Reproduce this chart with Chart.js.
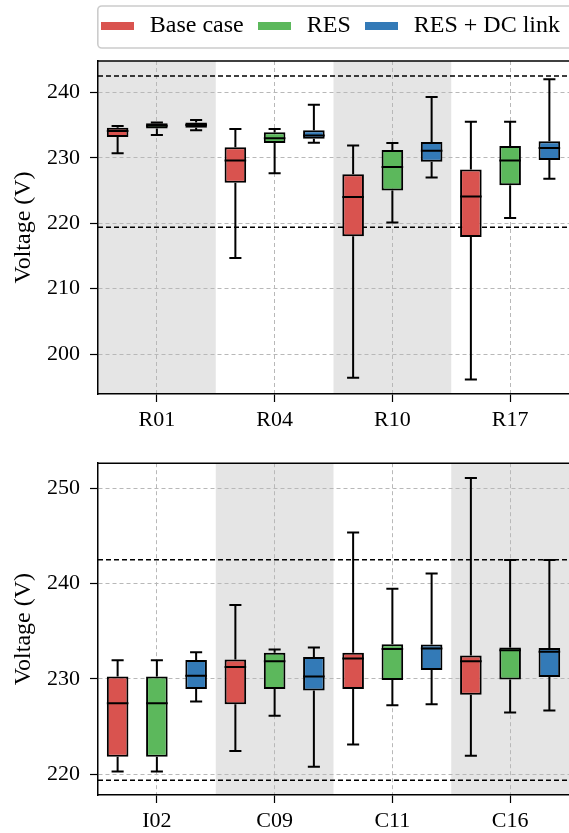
<!DOCTYPE html>
<html><head><meta charset="utf-8">
<script src="https://cdn.jsdelivr.net/npm/chart.js@4.4.0/dist/chart.umd.min.js"></script>
<style>
html,body{margin:0;padding:0;background:#fff;}
#wrapTop{position:absolute;left:0;top:0;width:569px;height:440px;}
#wrapBot{position:absolute;left:0;top:440px;width:569px;height:393px;}
</style></head><body>
<div id="wrapTop"><canvas id="topChart" width="569" height="440"></canvas></div>
<div id="wrapBot"><canvas id="botChart" width="569" height="393"></canvas></div>
<script>
const seriesNames = ['Base case', 'RES', 'RES + DC link'];
const seriesColors = ['#d9534f', '#5cb85c', '#337ab7'];
const topCategories = ['R01', 'R04', 'R10', 'R17'];
const bottomCategories = ['I02', 'C09', 'C11', 'C16'];

// each entry: [lower whisker, Q1, median, Q3, upper whisker]
const topBaseCase = [[230.7, 233.2, 234.1, 234.6, 234.85], [214.7, 226.2, 229.6, 231.6, 234.4], [196.4, 218.0, 224.0, 227.5, 231.9], [196.1, 217.9, 224.1, 228.2, 235.5]];
const topRES = [[233.5, 234.5, 234.9, 235.3, 235.4], [227.65, 232.25, 233.0, 233.9, 234.4], [220.1, 225.0, 228.6, 231.2, 232.25], [220.8, 225.8, 229.6, 231.8, 235.5]];
const topRESDC = [[234.2, 234.6, 235.0, 235.4, 235.8], [232.3, 232.9, 233.4, 234.2, 238.1], [227.0, 229.4, 231.1, 232.4, 239.3], [226.8, 229.65, 231.5, 232.55, 242.0]];

const bottomBaseCase = [[220.3, 221.85, 227.45, 230.25, 231.95], [222.45, 227.35, 231.25, 232.05, 237.75], [223.15, 228.95, 232.15, 232.75, 245.35], [221.95, 228.35, 231.85, 232.45, 251.05]];
const bottomRES = [[220.3, 221.85, 227.45, 230.25, 231.95], [226.15, 228.95, 231.85, 232.75, 233.1], [227.25, 229.9, 233.15, 233.65, 239.45], [226.5, 229.95, 233.0, 233.3, 242.45]];
const bottomRESDC = [[227.65, 228.95, 230.35, 232.0, 232.8], [220.8, 228.8, 230.25, 232.3, 233.3], [227.35, 230.95, 233.2, 233.6, 241.05], [226.7, 230.2, 232.85, 233.25, 242.45]];

const topTicks = [200, 210, 220, 230, 240];
const bottomTicks = [220, 230, 240, 250];
const topRange = [193.9, 244.8];
const bottomRange = [217.85, 252.6];
const voltageLimits = [219.4, 242.5];
const topShaded = [0, 2];
const bottomShaded = [1, 3];

Chart.defaults.font.family = "'Liberation Serif', 'Times New Roman', serif";
Chart.defaults.color = '#000';

function swatch(color) {
  const c = document.createElement('canvas');
  c.width = 33; c.height = 8;
  const g = c.getContext('2d');
  g.fillStyle = color; g.fillRect(0, 0, 33, 8);
  return c;
}

const bandPlugin = {
  id: 'bands',
  beforeDraw(chart, args, opts) {
    const x = chart.scales.x, a = chart.chartArea, ctx = chart.ctx;
    const step = x.width / chart.data.labels.length;
    ctx.save();
    ctx.beginPath(); ctx.rect(a.left, a.top, a.right - a.left, a.bottom - a.top); ctx.clip();
    ctx.fillStyle = '#e5e5e5';
    (opts.indices || []).forEach(k => {
      const c = x.getPixelForValue(k);
      ctx.fillRect(c - step / 2, a.top, step, a.bottom - a.top);
    });
    ctx.restore();
  }
};

const limitPlugin = {
  id: 'limits',
  beforeDatasetsDraw(chart, args, opts) {
    const y = chart.scales.y, a = chart.chartArea, ctx = chart.ctx;
    ctx.save();
    ctx.strokeStyle = '#000'; ctx.lineWidth = 1.5; ctx.setLineDash([5, 3]);
    (opts.values || []).forEach(v => {
      const py = y.getPixelForValue(v);
      ctx.beginPath(); ctx.moveTo(a.left, py); ctx.lineTo(a.right, py); ctx.stroke();
    });
    ctx.restore();
  }
};

const whiskerPlugin = {
  id: 'whiskers',
  afterDatasetsDraw(chart) {
    const y = chart.scales.y, ctx = chart.ctx;
    ctx.save();
    ctx.strokeStyle = '#000'; ctx.lineWidth = 2; ctx.setLineDash([]);
    chart.data.datasets.forEach((ds, i) => {
      const meta = chart.getDatasetMeta(i);
      meta.data.forEach((el, j) => {
        const s = ds.stats[j];
        const cx = el.x, hw = el.width / 2, cw = el.width * 0.28;
        const pLow = y.getPixelForValue(s[0]), pQ1 = y.getPixelForValue(s[1]);
        const pMed = y.getPixelForValue(s[2]), pQ3 = y.getPixelForValue(s[3]);
        const pHigh = y.getPixelForValue(s[4]);
        ctx.beginPath();
        ctx.moveTo(cx, pQ1); ctx.lineTo(cx, pLow);
        ctx.moveTo(cx - cw, pLow); ctx.lineTo(cx + cw, pLow);
        ctx.moveTo(cx, pQ3); ctx.lineTo(cx, pHigh);
        ctx.moveTo(cx - cw, pHigh); ctx.lineTo(cx + cw, pHigh);
        ctx.moveTo(cx - hw, pMed); ctx.lineTo(cx + hw, pMed);
        ctx.stroke();
      });
    });
    ctx.restore();
  }
};

const framePlugin = {
  id: 'frame',
  beforeInit(chart, args, opts) {
    if (chart.legend && opts.legendExtra) {
      const orig = chart.legend.fit;
      chart.legend.fit = function () { orig.call(this); if (this.options.display) this.height += opts.legendExtra; };
    }
  },
  afterDraw(chart, args, opts) {
    const a = chart.chartArea, ctx = chart.ctx;
    ctx.save();
    ctx.strokeStyle = '#000'; ctx.lineWidth = 1.5;
    ctx.beginPath(); ctx.moveTo(a.left, a.top); ctx.lineTo(a.right, a.top); ctx.stroke();
    if (opts.legendFrame && chart.legend && chart.legend.legendHitBoxes && chart.legend.legendHitBoxes.length) {
      const hb = chart.legend.legendHitBoxes[0];
      const x0 = hb.left + 1, y0 = hb.top - 8, y1 = hb.top + 34, x1 = chart.width + 10, r = 4;
      ctx.strokeStyle = '#cccccc'; ctx.lineWidth = 1.6;
      ctx.beginPath();
      ctx.moveTo(x0 + r, y0); ctx.lineTo(x1, y0); ctx.lineTo(x1, y1); ctx.lineTo(x0 + r, y1);
      ctx.arcTo(x0, y1, x0, y1 - r, r); ctx.lineTo(x0, y0 + r); ctx.arcTo(x0, y0, x0 + r, y0, r);
      ctx.stroke();
    }
    ctx.restore();
  }
};

function makeChart(id, categories, stats, ticks, range, shaded, showLegend, padTop, xHeight) {
  const datasets = stats.map((st, i) => ({
    label: seriesNames[i],
    data: st.map(s => [s[1], s[3]]),
    stats: st,
    backgroundColor: seriesColors[i],
    borderColor: '#000',
    borderWidth: 2,
    borderSkipped: false,
    barPercentage: 0.55,
    categoryPercentage: 1.0
  }));
  const gridOpts = { color: '#b8b8b8', lineWidth: 1, drawTicks: true, tickLength: 8, tickColor: '#000', tickWidth: 1.2, tickBorderDash: [] };
  return new Chart(document.getElementById(id), {
    type: 'bar',
    data: { labels: categories, datasets },
    plugins: [bandPlugin, limitPlugin, whiskerPlugin, framePlugin],
    options: {
      responsive: false,
      animation: false,
      devicePixelRatio: 1,
      layout: { padding: { top: padTop, left: 0, right: -1, bottom: 0 } },
      plugins: {
        tooltip: { enabled: false },
        bands: { indices: shaded },
        limits: { values: voltageLimits },
        frame: { legendExtra: showLegend ? 13 : 0, legendFrame: showLegend },
        legend: {
          display: showLegend,
          position: 'top',
          align: 'end',
          labels: {
            usePointStyle: true,
            pointStyleWidth: 41,
            boxHeight: 8,
            padding: 10,
            color: '#000',
            font: { size: 24 },
            generateLabels: (chart) => chart.data.datasets.map((ds, i) => ({
              text: ds.label,
              fillStyle: ds.backgroundColor,
              strokeStyle: ds.backgroundColor,
              lineWidth: 0,
              pointStyle: swatch(ds.backgroundColor),
              datasetIndex: i,
              hidden: false,
              fontColor: '#000'
            }))
          }
        }
      },
      scales: {
        x: {
          type: 'category',
          offset: true,
          grid: Object.assign({ offset: false }, gridOpts),
          border: { display: true, color: '#000', width: 1.5, dash: [4, 3] },
          ticks: { color: '#000', font: { size: 22 }, padding: 5, maxRotation: 0, autoSkip: false },
          afterFit: s => { s.height = xHeight; }
        },
        y: {
          min: range[0],
          max: range[1],
          afterBuildTicks: s => { s.ticks = ticks.map(v => ({ value: v })); },
          grid: gridOpts,
          border: { display: true, color: '#000', width: 1.5, dash: [4, 3] },
          ticks: { color: '#000', font: { size: 22 }, padding: 10 },
          title: { display: true, text: 'Voltage (V)', color: '#000', font: { size: 24 }, padding: { top: 9, bottom: 0 } },
          afterFit: s => { s.width = 98; }
        }
      }
    }
  });
}

makeChart('topChart', topCategories, [topBaseCase, topRES, topRESDC], topTicks, topRange, topShaded, true, 4, 46);
makeChart('botChart', bottomCategories, [bottomBaseCase, bottomRES, bottomRESDC], bottomTicks, bottomRange, bottomShaded, false, 22, 38);
</script>
</body></html>
